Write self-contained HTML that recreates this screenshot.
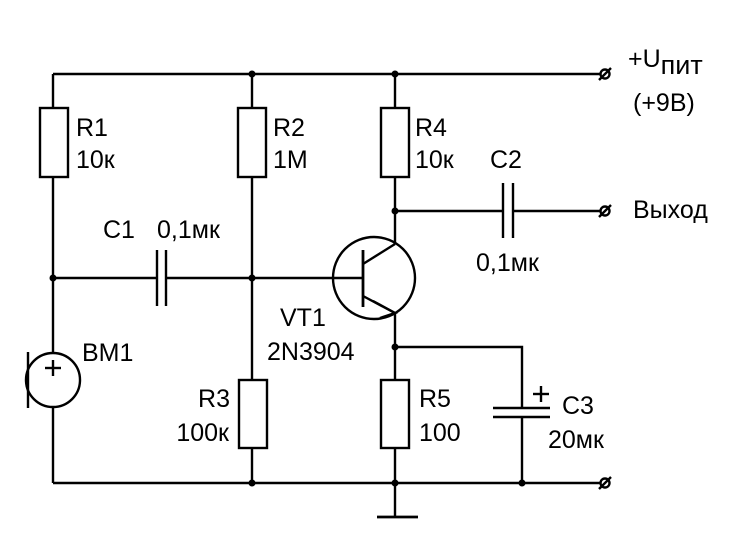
<!DOCTYPE html>
<html><head><meta charset="utf-8"><style>
html,body{margin:0;padding:0;background:#fff;}
svg{display:block;}
text{font-family:"Liberation Sans",Arial,sans-serif;font-size:25px;fill:#000;}
</style></head><body>
<svg width="750" height="544" viewBox="0 0 750 544" xmlns="http://www.w3.org/2000/svg">
<g stroke="#000" stroke-width="2.4" fill="none">
<line x1="53" y1="74" x2="601" y2="74"/>
<line x1="53" y1="74" x2="53" y2="108"/>
<rect x="40" y="108" width="28" height="69" fill="#fff"/>
<line x1="53" y1="177" x2="53" y2="353"/>
<line x1="53" y1="407" x2="53" y2="483"/>
<circle cx="53" cy="380" r="27"/>
<line x1="28" y1="352" x2="28" y2="408"/>
<line x1="252" y1="74" x2="252" y2="108"/>
<rect x="238" y="108" width="28" height="69"/>
<line x1="252" y1="177" x2="252" y2="380"/>
<rect x="239" y="380" width="28" height="68"/>
<line x1="252" y1="448" x2="252" y2="483"/>
<line x1="53" y1="278" x2="157" y2="278"/>
<line x1="157" y1="250" x2="157" y2="306"/>
<line x1="166" y1="250" x2="166" y2="306"/>
<line x1="166" y1="278" x2="363" y2="278"/>
<circle cx="374" cy="278" r="41"/>
<line x1="363" y1="250" x2="363" y2="307" stroke-width="2.8"/>
<line x1="363" y1="264" x2="395" y2="244"/>
<line x1="363" y1="296" x2="395" y2="313"/>
<polyline points="373,301 395,313 380,318"/>
<line x1="395" y1="74" x2="395" y2="108"/>
<rect x="381" y="108" width="28" height="69"/>
<line x1="395" y1="177" x2="395" y2="244"/>
<line x1="395" y1="211" x2="503" y2="211"/>
<line x1="503" y1="183" x2="503" y2="238"/>
<line x1="513" y1="183" x2="513" y2="238"/>
<line x1="513" y1="211" x2="601" y2="211"/>
<line x1="395" y1="313" x2="395" y2="380"/>
<rect x="381" y="380" width="28" height="68"/>
<line x1="395" y1="448" x2="395" y2="517"/>
<line x1="377" y1="517" x2="418" y2="517" stroke-width="2.8"/>
<polyline points="395,347 522,347 522,408"/>
<line x1="493" y1="408" x2="550" y2="408"/>
<line x1="493" y1="417" x2="550" y2="417"/>
<line x1="522" y1="417" x2="522" y2="483"/>
<line x1="541" y1="386" x2="541" y2="402"/>
<line x1="533" y1="394" x2="549" y2="394"/>
<line x1="53" y1="483" x2="601" y2="483"/>
<circle cx="605" cy="74" r="4.5"/><line x1="599" y1="80" x2="611" y2="68"/>
<circle cx="605" cy="211" r="4.5"/><line x1="599" y1="217" x2="611" y2="205"/>
<circle cx="605" cy="483" r="4.5"/><line x1="599" y1="489" x2="611" y2="477"/>
<line x1="53" y1="360" x2="53" y2="376"/>
<line x1="45" y1="368" x2="61" y2="368"/>
</g>
<g fill="#000">
<circle cx="252" cy="74" r="3.5"/><circle cx="395" cy="74" r="3.5"/>
<circle cx="53" cy="278" r="3.5"/><circle cx="252" cy="278" r="3.5"/>
<circle cx="395" cy="211" r="3.5"/><circle cx="395" cy="347" r="3.5"/>
<circle cx="252" cy="483" r="3.5"/><circle cx="395" cy="483" r="3.5"/><circle cx="522" cy="483" r="3.5"/>
</g>
<text x="76" y="136">R1</text><text x="76" y="168">10к</text>
<text x="273" y="136">R2</text><text x="273" y="168">1M</text>
<text x="415" y="136">R4</text><text x="415" y="168">10к</text>
<text x="103" y="238">C1</text><text x="157" y="238">0,1мк</text>
<text x="490" y="168">C2</text><text x="476" y="271">0,1мк</text>
<text x="628" y="67">+U<tspan font-size="27" dy="7">пит</tspan></text>
<text x="633" y="111">(+9В)</text>
<text x="633" y="218">Выход</text>
<text x="82" y="361">BM1</text>
<text x="280" y="326">VT1</text><text x="267" y="360">2N3904</text>
<text x="230" y="407" text-anchor="end">R3</text><text x="229" y="441" text-anchor="end">100к</text>
<text x="419" y="407">R5</text><text x="419" y="441">100</text>
<text x="562" y="414">C3</text><text x="548" y="448">20мк</text>
</svg>
</body></html>
